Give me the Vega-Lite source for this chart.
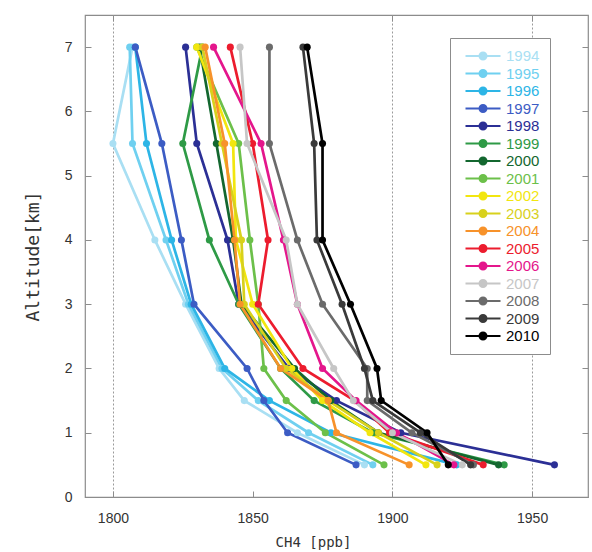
{
  "$schema": "https://vega.github.io/schema/vega-lite/v6.json",
  "width": 503,
  "height": 482,
  "autosize": {"type": "none"},
  "padding": {"left": 85, "top": 15, "right": 4, "bottom": 55},
  "background": "white",
  "config": {
    "view": {"stroke": "#8c8c8c", "strokeWidth": 1.2},
    "font": "Liberation Sans",
    "axis": {
      "domain": false,
      "tickColor": "#8c8c8c",
      "tickSize": -6,
      "labelFont": "Liberation Sans",
      "labelFontSize": 14,
      "labelColor": "#333333",
      "titleFont": "DejaVu Sans Mono",
      "titleFontWeight": "normal",
      "titleColor": "#333333"
    }
  },
  "data": {
    "values": [
      {"year": "1994", "alt": 7, "ch4": 1807}, {"year": "1994", "alt": 5.5, "ch4": 1800}, {"year": "1994", "alt": 4, "ch4": 1815}, {"year": "1994", "alt": 3, "ch4": 1826}, {"year": "1994", "alt": 2, "ch4": 1838}, {"year": "1994", "alt": 1.5, "ch4": 1847}, {"year": "1994", "alt": 1, "ch4": 1866}, {"year": "1994", "alt": 0.5, "ch4": 1890},
      {"year": "1995", "alt": 7, "ch4": 1806}, {"year": "1995", "alt": 5.5, "ch4": 1807}, {"year": "1995", "alt": 4, "ch4": 1819}, {"year": "1995", "alt": 3, "ch4": 1827}, {"year": "1995", "alt": 2, "ch4": 1839}, {"year": "1995", "alt": 1.5, "ch4": 1852}, {"year": "1995", "alt": 1, "ch4": 1870}, {"year": "1995", "alt": 0.5, "ch4": 1893},
      {"year": "1996", "alt": 7, "ch4": 1808}, {"year": "1996", "alt": 5.5, "ch4": 1812}, {"year": "1996", "alt": 4, "ch4": 1821}, {"year": "1996", "alt": 3, "ch4": 1828}, {"year": "1996", "alt": 2, "ch4": 1840}, {"year": "1996", "alt": 1.5, "ch4": 1856}, {"year": "1996", "alt": 1, "ch4": 1878}, {"year": "1996", "alt": 0.5, "ch4": 1923},
      {"year": "1997", "alt": 7, "ch4": 1808}, {"year": "1997", "alt": 5.5, "ch4": 1817.5}, {"year": "1997", "alt": 4, "ch4": 1824.5}, {"year": "1997", "alt": 3, "ch4": 1829}, {"year": "1997", "alt": 2, "ch4": 1848}, {"year": "1997", "alt": 1.5, "ch4": 1854}, {"year": "1997", "alt": 1, "ch4": 1862.5}, {"year": "1997", "alt": 0.5, "ch4": 1887},
      {"year": "1998", "alt": 7, "ch4": 1826}, {"year": "1998", "alt": 5.5, "ch4": 1830}, {"year": "1998", "alt": 4, "ch4": 1841}, {"year": "1998", "alt": 3, "ch4": 1845}, {"year": "1998", "alt": 2, "ch4": 1863}, {"year": "1998", "alt": 1.5, "ch4": 1880}, {"year": "1998", "alt": 1, "ch4": 1903}, {"year": "1998", "alt": 0.5, "ch4": 1958},
      {"year": "1999", "alt": 7, "ch4": 1832}, {"year": "1999", "alt": 5.5, "ch4": 1825}, {"year": "1999", "alt": 4, "ch4": 1834.5}, {"year": "1999", "alt": 3, "ch4": 1845}, {"year": "1999", "alt": 2, "ch4": 1860}, {"year": "1999", "alt": 1.5, "ch4": 1872}, {"year": "1999", "alt": 1, "ch4": 1893}, {"year": "1999", "alt": 0.5, "ch4": 1940},
      {"year": "2000", "alt": 7, "ch4": 1831}, {"year": "2000", "alt": 5.5, "ch4": 1837}, {"year": "2000", "alt": 4, "ch4": 1843}, {"year": "2000", "alt": 3, "ch4": 1846}, {"year": "2000", "alt": 2, "ch4": 1865}, {"year": "2000", "alt": 1.5, "ch4": 1878}, {"year": "2000", "alt": 1, "ch4": 1895}, {"year": "2000", "alt": 0.5, "ch4": 1938},
      {"year": "2001", "alt": 7, "ch4": 1830}, {"year": "2001", "alt": 5.5, "ch4": 1845}, {"year": "2001", "alt": 4, "ch4": 1849}, {"year": "2001", "alt": 3, "ch4": 1852}, {"year": "2001", "alt": 2, "ch4": 1854}, {"year": "2001", "alt": 1.5, "ch4": 1862}, {"year": "2001", "alt": 1, "ch4": 1876}, {"year": "2001", "alt": 0.5, "ch4": 1897},
      {"year": "2002", "alt": 7, "ch4": 1830}, {"year": "2002", "alt": 5.5, "ch4": 1843}, {"year": "2002", "alt": 4, "ch4": 1844}, {"year": "2002", "alt": 3, "ch4": 1850}, {"year": "2002", "alt": 2, "ch4": 1864}, {"year": "2002", "alt": 1.5, "ch4": 1875}, {"year": "2002", "alt": 1, "ch4": 1892}, {"year": "2002", "alt": 0.5, "ch4": 1912},
      {"year": "2003", "alt": 7, "ch4": 1832}, {"year": "2003", "alt": 5.5, "ch4": 1839}, {"year": "2003", "alt": 4, "ch4": 1846}, {"year": "2003", "alt": 3, "ch4": 1847}, {"year": "2003", "alt": 2, "ch4": 1862}, {"year": "2003", "alt": 1.5, "ch4": 1877}, {"year": "2003", "alt": 1, "ch4": 1895}, {"year": "2003", "alt": 0.5, "ch4": 1916},
      {"year": "2004", "alt": 7, "ch4": 1833}, {"year": "2004", "alt": 5.5, "ch4": 1840}, {"year": "2004", "alt": 4, "ch4": 1843.5}, {"year": "2004", "alt": 3, "ch4": 1845.5}, {"year": "2004", "alt": 2, "ch4": 1860}, {"year": "2004", "alt": 1.5, "ch4": 1877}, {"year": "2004", "alt": 1, "ch4": 1880}, {"year": "2004", "alt": 0.5, "ch4": 1906},
      {"year": "2005", "alt": 7, "ch4": 1842}, {"year": "2005", "alt": 5.5, "ch4": 1850}, {"year": "2005", "alt": 4, "ch4": 1855.5}, {"year": "2005", "alt": 3, "ch4": 1852}, {"year": "2005", "alt": 2, "ch4": 1868}, {"year": "2005", "alt": 1.5, "ch4": 1886.5}, {"year": "2005", "alt": 1, "ch4": 1899}, {"year": "2005", "alt": 0.5, "ch4": 1932.5},
      {"year": "2006", "alt": 7, "ch4": 1836}, {"year": "2006", "alt": 5.5, "ch4": 1853}, {"year": "2006", "alt": 4, "ch4": 1861}, {"year": "2006", "alt": 3, "ch4": 1866}, {"year": "2006", "alt": 2, "ch4": 1875}, {"year": "2006", "alt": 1.5, "ch4": 1887}, {"year": "2006", "alt": 1, "ch4": 1901.5}, {"year": "2006", "alt": 0.5, "ch4": 1922},
      {"year": "2007", "alt": 7, "ch4": 1845.5}, {"year": "2007", "alt": 5.5, "ch4": 1848}, {"year": "2007", "alt": 4, "ch4": 1862}, {"year": "2007", "alt": 3, "ch4": 1866}, {"year": "2007", "alt": 2, "ch4": 1879}, {"year": "2007", "alt": 1.5, "ch4": 1886}, {"year": "2007", "alt": 1, "ch4": 1900}, {"year": "2007", "alt": 0.5, "ch4": 1925},
      {"year": "2008", "alt": 7, "ch4": 1856}, {"year": "2008", "alt": 5.5, "ch4": 1856}, {"year": "2008", "alt": 4, "ch4": 1866}, {"year": "2008", "alt": 3, "ch4": 1875}, {"year": "2008", "alt": 2, "ch4": 1891}, {"year": "2008", "alt": 1.5, "ch4": 1891}, {"year": "2008", "alt": 1, "ch4": 1907}, {"year": "2008", "alt": 0.5, "ch4": 1929},
      {"year": "2009", "alt": 7, "ch4": 1868}, {"year": "2009", "alt": 5.5, "ch4": 1872}, {"year": "2009", "alt": 4, "ch4": 1873}, {"year": "2009", "alt": 3, "ch4": 1882}, {"year": "2009", "alt": 2, "ch4": 1890}, {"year": "2009", "alt": 1.5, "ch4": 1893}, {"year": "2009", "alt": 1, "ch4": 1910}, {"year": "2009", "alt": 0.5, "ch4": 1928},
      {"year": "2010", "alt": 7, "ch4": 1869.5}, {"year": "2010", "alt": 5.5, "ch4": 1875}, {"year": "2010", "alt": 4, "ch4": 1875}, {"year": "2010", "alt": 3, "ch4": 1885}, {"year": "2010", "alt": 2, "ch4": 1894.5}, {"year": "2010", "alt": 1.5, "ch4": 1896}, {"year": "2010", "alt": 1, "ch4": 1912.4}, {"year": "2010", "alt": 0.5, "ch4": 1920}
    ]
  },
  "layer": [
    {
      "mark": {"type": "line", "strokeWidth": 2.7},
      "encoding": {
        "x": {
          "field": "ch4", "type": "quantitative",
          "scale": {"domain": [1790, 1970], "nice": false, "zero": false},
          "axis": {"orient": "bottom", "values": [1800, 1850, 1900, 1950], "format": "d", "grid": false, "labelPadding": 20, "title": "CH4 [ppb]", "titleFontSize": 14, "titlePadding": 10, "titleX": 228, "titleAlign": "center", "titleAnchor": null}
        },
        "y": {
          "field": "alt", "type": "quantitative",
          "scale": {"domain": [0, 7.5], "nice": false},
          "axis": {"orient": "left", "values": [0, 1, 2, 3, 4, 5, 6, 7], "grid": false, "labelPadding": 19, "title": "Altitude[km]", "titleFontSize": 18, "titlePadding": 22}
        },
        "color": {
          "field": "year", "type": "nominal",
          "scale": {
            "domain": ["1994", "1995", "1996", "1997", "1998", "1999", "2000", "2001", "2002", "2003", "2004", "2005", "2006", "2007", "2008", "2009", "2010"],
            "range": ["#a9dff3", "#6fd0f0", "#2db5e6", "#3c5cc4", "#2b2f95", "#2e9a46", "#13672f", "#6cc04a", "#f2e60f", "#d8d11c", "#f7922a", "#ec1c2e", "#e4168c", "#c6c6c6", "#6b6b6b", "#3a3a3a", "#000000"]
          },
          "legend": {
            "orient": "none", "legendX": 365, "legendY": 23,
            "title": null,
            "symbolType": "M-2.5,0L2.5,0M-0.5,0A0.5,0.5,0,1,1,0.5,0A0.5,0.5,0,1,1,-0.5,0Z",
            "symbolSize": 196, "symbolStrokeWidth": 2,
            "labelFont": "Liberation Sans", "labelFontSize": 15,
            "labelOffset": 15, "symbolOffset": 15, "rowPadding": 1.5,
            "strokeColor": "#8c8c8c", "fillColor": "white", "padding": 10,
            "encode": {
              "symbols": {"update": {"fill": {"scale": "color", "field": "value"}, "stroke": {"scale": "color", "field": "value"}, "opacity": {"value": 1}}},
              "labels": {"update": {"fill": {"scale": "color", "field": "value"}}}
            }
          }
        },
        "order": {"field": "alt"}
      }
    },
    {
      "mark": {"type": "point", "filled": true, "size": 50, "opacity": 1},
      "encoding": {
        "x": {
          "field": "ch4", "type": "quantitative",
          "axis": {"orient": "top", "values": [1800, 1900, 1950], "labels": false, "title": null, "grid": true, "gridColor": "#9a9a9a", "gridDash": [2, 2], "gridWidth": 1}
        },
        "y": {
          "field": "alt", "type": "quantitative",
          "axis": {"orient": "right", "values": [0, 1, 2, 3, 4, 5, 6, 7], "labels": false, "title": null, "grid": false}
        },
        "color": {"field": "year", "type": "nominal"}
      }
    }
  ],
  "resolve": {"axis": {"x": "independent", "y": "independent"}}
}
